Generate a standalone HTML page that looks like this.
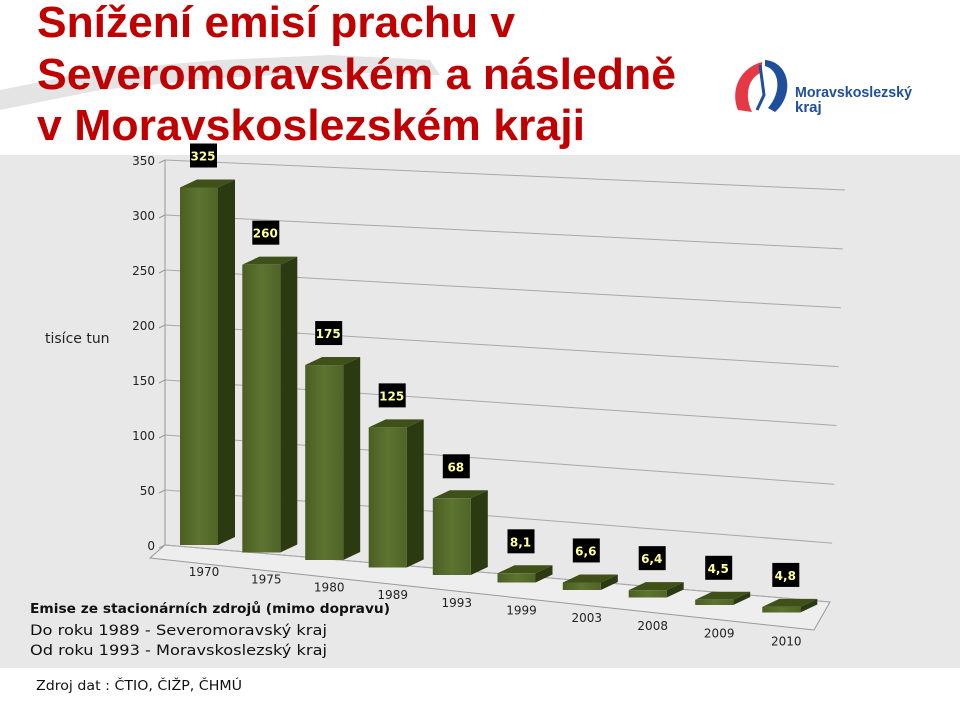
<!DOCTYPE html>
<html><head><meta charset="utf-8"><style>
body{margin:0;background:#fff}
svg{display:block}
</style></head><body>
<svg width="960" height="715" viewBox="0 0 960 715" xmlns="http://www.w3.org/2000/svg">
<defs>
<linearGradient id="fg" x1="0" x2="1"><stop offset="0" stop-color="#4a5e22"/><stop offset="0.5" stop-color="#5d7430"/><stop offset="1" stop-color="#4f6426"/></linearGradient>
</defs>
<rect width="960" height="715" fill="#fff"/>
<g fill="#e4e4e4">
<polygon points="0,90 100,70 220,60 330,55 430,60 440,75 330,72 220,78 100,90 0,110"/>
</g>
<rect x="0" y="155" width="960" height="513" fill="#e8e8e8"/>
<g fill="#c00000" font-family="Liberation Sans, sans-serif" font-weight="bold" font-size="44">
<text x="37" y="37" textLength="478" lengthAdjust="spacingAndGlyphs">Snížení emisí prachu v</text>
<text x="37" y="89" textLength="639" lengthAdjust="spacingAndGlyphs">Severomoravském a následně</text>
<text x="37" y="140" textLength="548" lengthAdjust="spacingAndGlyphs">v Moravskoslezském kraji</text>
</g>
<g>
<path d="M762,62 C740,68 730,90 738,110 L752,112 C744,95 748,78 762,72 Z" fill="#e63946"/>
<path d="M765,60 C790,62 795,95 775,112 L768,108 C782,92 780,70 765,66 Z" fill="#1f4e9c"/>
<path d="M760,65 L764,95 L757,110" stroke="#1f4e9c" stroke-width="3" fill="none"/>
<text x="795" y="97" font-family="Liberation Sans, sans-serif" font-weight="bold" font-size="15" fill="#1f4e9c" textLength="117" lengthAdjust="spacingAndGlyphs">Moravskoslezský</text>
<text x="795" y="112" font-family="Liberation Sans, sans-serif" font-weight="bold" font-size="15" fill="#1f4e9c">kraj</text>
</g>
<g id="plot"></g>
<text x="45" y="343" font-family="DejaVu Sans, sans-serif" font-size="14" fill="#222">tisíce tun</text>
<g font-family="DejaVu Sans, sans-serif" fill="#111">
<text x="30" y="613" font-size="13" font-weight="bold" textLength="360" lengthAdjust="spacingAndGlyphs">Emise ze stacionárních zdrojů (mimo dopravu)</text>
<text x="30" y="635" font-size="14" textLength="297" lengthAdjust="spacingAndGlyphs">Do roku 1989  - Severomoravský  kraj</text>
<text x="30" y="655" font-size="14" textLength="297" lengthAdjust="spacingAndGlyphs">Od roku 1993  - Moravskoslezský kraj</text>
</g>
<text x="36" y="690" font-family="DejaVu Sans, sans-serif" font-size="13" fill="#111" textLength="206" lengthAdjust="spacingAndGlyphs">Zdroj dat : ČTIO, ČIŽP, ČHMÚ</text>
</svg>
<script>
const years=["1970","1975","1980","1989","1993","1999","2003","2008","2009","2010"];
const values=[325,260,175,125,68,8.1,6.6,6.4,4.5,4.8];
const valueLabels=["325","260","175","125","68","8,1","6,6","6,4","4,5","4,8"];
const ticks=[0,50,100,150,200,250,300,350];
const NS="http://www.w3.org/2000/svg";
const g=document.getElementById('plot');
function mk(t,a,p){const e=document.createElementNS(NS,t);for(const k in a)e.setAttribute(k,a[k]);(p||g).appendChild(e);return e;}
const n=years.length;
function bx(i){return 180+62*i+0.3*i*i;}
function base(i){return 545+7.5*i;}
function k(i){return 1.1+0.007*i;}
function gl(v){return 545-1.1*v;}
function gr(v){return 602-1.177*v;}
const floor=mk('polygon',{points:"165,545 830,602 814,630 150,558",fill:"#eeeeee",stroke:"#999","stroke-width":"1"});


ticks.forEach(v=>{
 const l=mk('line',{x1:165,y1:gl(v),x2:830+15*v/350,y2:gr(v),stroke:"#a8a8a8","stroke-width":"1"});
 
 
 const tk=mk('line',{x1:159,y1:gl(v)+3,x2:165,y2:gl(v),stroke:"#999"});
 
 
 const t=mk('text',{x:155,y:gl(v)+5,"text-anchor":"end","font-family":"DejaVu Sans, sans-serif","font-size":"12",fill:"#222"});
 t.textContent=v;
 
 
});
const ax=mk('line',{x1:165,y1:gl(350),x2:165,y2:545,stroke:"#999"});


for(let i=0;i<n;i++){
 const x=bx(i),b=base(i),top=b-values[i]*k(i),w=38,dx=17,dy=8;
 const grp=mk('g',{});
 
 
 mk('polygon',{points:`${x+w},${top} ${x+w+dx},${top-dy} ${x+w+dx},${b-dy} ${x+w},${b}`,fill:"#2c3a12"},grp);
 mk('polygon',{points:`${x},${top} ${x+dx},${top-dy} ${x+w+dx},${top-dy} ${x+w},${top}`,fill:"#3f5019"},grp);
 mk('rect',{x:x,y:top,width:w,height:Math.max(b-top,1),fill:"url(#fg)"},grp);
 const lx=x+23,ly=top-20;
 const lb=mk('rect',{x:lx-13,y:ly-24,width:27,height:24,fill:"#000"});
 
 
 const lt=mk('text',{x:lx,y:ly-7,"text-anchor":"middle","font-family":"DejaVu Sans, sans-serif","font-size":"12","font-weight":"bold",fill:"#ffff99"});
 lt.textContent=valueLabels[i];
 
 
 const yt=mk('text',{x:x+24,y:576+7.7*i,"text-anchor":"middle","font-family":"DejaVu Sans, sans-serif","font-size":"12",fill:"#222"});
 yt.textContent=years[i];
 
 
}
</script>
</body></html>
